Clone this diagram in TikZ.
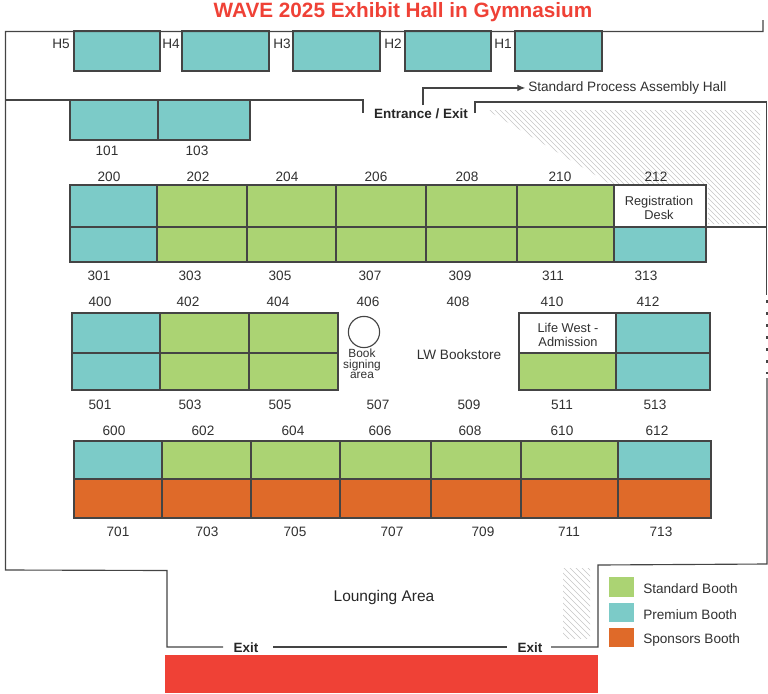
\documentclass[tikz,border=0pt]{standalone}
\usepackage{fontspec}
\setmainfont{Liberation Sans}
\usepackage{xcolor}
\usetikzlibrary{positioning,arrows.meta}
\definecolor{premium}{HTML}{7CCBC8}
\definecolor{standard}{HTML}{ABD373}
\definecolor{sponsor}{HTML}{DF6A29}
\definecolor{stage}{HTML}{EF4136}
\definecolor{wallgray}{HTML}{444444}
\definecolor{txtgray}{HTML}{303030}

\begin{document}
\begin{tikzpicture}[
    x=0.75pt, y=-0.75pt,
    >=Latex,
    wall/.style={draw=wallgray, line width=0.85pt},
    booth/.style={draw=wallgray, line width=0.85pt},
    hatchline/.style={draw=gray!45, line width=0.3pt},
    num/.style={font=\fontsize{10.2}{12}\selectfont, text=txtgray, inner sep=0pt, yshift=-0.7pt},
    note/.style={font=\fontsize{9.6}{10}\selectfont, text=txtgray, inner sep=0pt, align=center, yshift=-0.7pt},
    exitlabel/.style={font=\fontsize{10.1}{12}\selectfont\bfseries, text=black!85, inner sep=0pt}
]
\useasboundingbox (0,0) rectangle (768,693);

% === Hatched corners ===
\begin{scope}
\clip (487,110) -- (760,110) -- (760,224) -- (708,224) -- (708,185) -- (612,185) -- cycle;
\foreach \i in {0,5,...,420} {
  \draw[hatchline] (360+\i,100) -- (500+\i,240);
}
\end{scope}
\begin{scope}
\clip (563,568) rectangle (590,638);
\foreach \i in {0,6,...,96} {
  \draw[hatchline] (490+\i,560) -- (590+\i,660);
}
\end{scope}

% === Top row (hall booths) ===
\foreach \xa/\xb in {74/160,182/269,293/380,405/491,515/602} {
  \draw[booth, fill=premium] (\xa,31) rectangle (\xb,71);
}
\foreach \name/\xa in {H5/61,H4/171,H3/282,H2/393,H1/503} {
  \node[num] (lab\name) at (\xa,43) {\name};
}

% === Walls ===
\draw[wall] (763,20) -- (763,31.5) -- (5.5,31.5) -- (5.5,570) -- (167,570.5) -- (167,647) -- (223,647);
\draw[wall] (5.5,100) -- (363,100) -- (363,113);
\draw[wall] (273,647) -- (507,647);
\draw[wall] (551,647) -- (598,647) -- (598,565) -- (767,564) -- (767,378);
\draw[wall] (475,113) -- (475,102) -- (766.5,102) -- (766.5,295);
\draw[wall] (706,227) -- (766.5,227);
\draw[wall, dash pattern=on 2.2pt off 6.8pt] (767,300) -- (767,374);

% === 101 / 103 ===
\draw[booth, fill=premium] (70,100) rectangle (158,140);
\draw[booth, fill=premium] (158,100) rectangle (250,140);
\node[num] (n101) at (107,150) {101};
\node[num] (n103) at (197,150) {103};

% === Rows 200 / 300 ===
\foreach \xa/\xb in {70/157,157/247,247/336,336/426,426/517,517/614} {
  \ifnum\xa=70 \def\boothcol{premium}\else\def\boothcol{standard}\fi
  \draw[booth, fill=\boothcol] (\xa,185) rectangle (\xb,227);
  \draw[booth, fill=\boothcol] (\xa,227) rectangle (\xb,262);
}
\draw[booth, fill=white] (614,185) rectangle (706,227);
\draw[booth, fill=premium] (614,227) rectangle (706,262);
\node[note] (regdesk) at (659,207) {Registration\\Desk};
\foreach \n/\xa in {200/109,202/198,204/287,206/376,208/467,210/560,212/656} {
  \node[num] (n\n) at (\xa,176) {\n};
}
\foreach \n/\xa in {301/99,303/190,305/280,307/370,309/460,311/553,313/646} {
  \node[num] (n\n) at (\xa,275) {\n};
}

% === Rows 400 / 500 ===
\foreach \xa/\xb in {72/160,160/249,249/338} {
  \ifnum\xa=72 \def\boothcol{premium}\else\def\boothcol{standard}\fi
  \draw[booth, fill=\boothcol] (\xa,313) rectangle (\xb,353);
  \draw[booth, fill=\boothcol] (\xa,353) rectangle (\xb,390);
}
\draw[booth, fill=white] (519,313) rectangle (616,353);
\draw[booth, fill=standard] (519,353) rectangle (616,390);
\draw[booth, fill=premium] (616,313) rectangle (710,353);
\draw[booth, fill=premium] (616,353) rectangle (710,390);
\node[note] (lifewest) at (568,334) {Life West -\\Admission};
\node[draw=wallgray, line width=0.85pt, circle, minimum size=23.4pt, inner sep=0pt] (signing) at (364,332) {};
\node[font=\fontsize{8.9}{8}\selectfont, text=txtgray, inner sep=0pt, align=center] (signtext) at (362,364) {Book\\signing\\area};
\node[num] (bookstore) at (459,354) {LW Bookstore};
\foreach \n/\xa in {400/100,402/188,404/278,406/368,408/458,410/552,412/648} {
  \node[num] (n\n) at (\xa,301) {\n};
}
\foreach \n/\xa in {501/100,503/190,505/280,507/378,509/469,511/562,513/655} {
  \node[num] (n\n) at (\xa,404) {\n};
}

% === Rows 600 / 700 ===
\foreach \xa/\xb in {74/162,162/251,251/340,340/431,431/521,521/618,618/711} {
  \ifnum\xa=74 \def\boothcol{premium}\else\ifnum\xa=618 \def\boothcol{premium}\else\def\boothcol{standard}\fi\fi
  \draw[booth, fill=\boothcol] (\xa,441) rectangle (\xb,479);
  \draw[booth, fill=sponsor] (\xa,479) rectangle (\xb,518);
}
\foreach \n/\xa in {600/114,602/203,604/293,606/380,608/470,610/562,612/657} {
  \node[num] (n\n) at (\xa,430) {\n};
}
\foreach \n/\xa in {701/118,703/207,705/295,707/392,709/483,711/569,713/661} {
  \node[num] (n\n) at (\xa,531) {\n};
}

% Title and entrance
\node[font=\fontsize{15.55}{18}\selectfont\bfseries, text=stage, inner sep=0pt] (title) at (403,12) {WAVE 2025 Exhibit Hall in Gymnasium};
\node[exitlabel] (entrance) at (421,114) {Entrance / Exit};
\node[num, anchor=west] (assembly) at (528,87) {Standard Process Assembly Hall};
\coordinate (entrtop) at (423,105);
\draw[draw=wallgray, line width=0.85pt, -{Latex[length=6pt,width=5pt]}, shorten >=2pt] (entrtop) |- (assembly.west);

% Lounging area and exits
\node[font=\fontsize{11.6}{13}\selectfont, text=black!85, inner sep=0pt] (lounge) at (384,597) {Lounging Area};
\node[exitlabel] (exitl) at (246,648) {Exit};
\node[exitlabel] (exitr) at (530,648) {Exit};
\fill[stage] (165,655) rectangle (598,693);

% Legend
\fill[standard] (609,577) rectangle (634,597);
\fill[premium] (609,603) rectangle (634,622);
\fill[sponsor] (609,628) rectangle (634,647);
\node[num, anchor=west] (legstd) at (643,588) {Standard Booth};
\node[num, anchor=west] (legprem) at (643,614) {Premium Booth};
\node[num, anchor=west] (legspon) at (643,639) {Sponsors Booth};
\end{tikzpicture}
\end{document}
